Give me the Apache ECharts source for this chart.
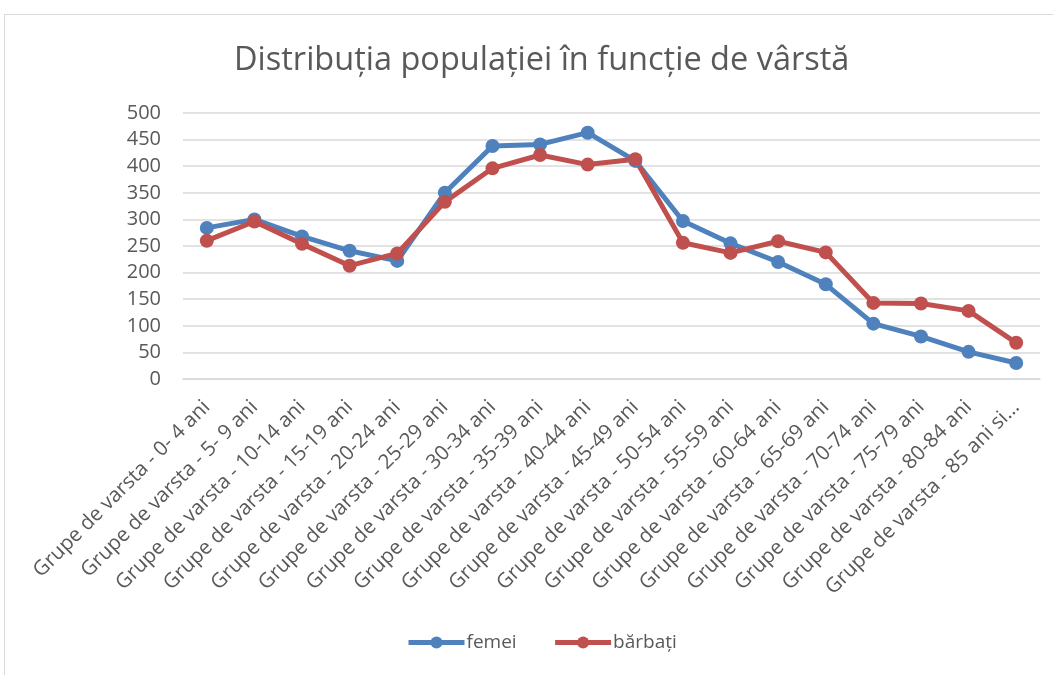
<!DOCTYPE html>
<html><head><meta charset="utf-8">
<script src="https://cdn.jsdelivr.net/npm/echarts@6/dist/echarts.min.js"></script>
<style>
html,body{margin:0;padding:0;background:#fff;}
#frame{position:absolute;left:4px;top:14px;width:1060px;height:680px;border-left:1.5px solid #d9d9d9;border-top:1.5px solid #d9d9d9;}
#c{position:absolute;left:0;top:0;width:1053px;height:675px;}
</style></head><body>
<div id="frame"></div>
<div id="c"></div>
<script>
var categories = ["Grupe de varsta - 0- 4 ani","Grupe de varsta - 5- 9 ani","Grupe de varsta - 10-14 ani","Grupe de varsta - 15-19 ani","Grupe de varsta - 20-24 ani","Grupe de varsta - 25-29 ani","Grupe de varsta - 30-34 ani","Grupe de varsta - 35-39 ani","Grupe de varsta - 40-44 ani","Grupe de varsta - 45-49 ani","Grupe de varsta - 50-54 ani","Grupe de varsta - 55-59 ani","Grupe de varsta - 60-64 ani","Grupe de varsta - 65-69 ani","Grupe de varsta - 70-74 ani","Grupe de varsta - 75-79 ani","Grupe de varsta - 80-84 ani","Grupe de varsta - 85 ani si..."];
var femei = [284, 300, 268, 241, 222, 350, 438, 441, 463, 410, 297, 255, 220, 178, 104, 80, 51, 30];
var barbati = [260, 296, 254, 213, 236, 333, 396, 421, 403, 413, 256, 237, 259, 238, 143, 142, 128, 68];
var chart = echarts.init(document.getElementById('c'));
var font = "'Open Sans', 'Noto Sans', sans-serif";
chart.setOption({
  animation:false,
  title:{text:"Distribuția populației în funcție de vârstă",left:229,top:39,
    textStyle:{fontFamily:font,fontSize:32.5,fontWeight:'normal',color:'#595959'}},
  legend:{bottom:18,left:401,itemWidth:56,itemHeight:15,itemGap:36,
    lineStyle:{width:5},
    textStyle:{fontFamily:font,fontSize:19,color:'#595959',padding:[0,0,0,-3]},
    data:['femei','bărbați']},
  grid:{left:183,right:13,top:113,bottom:296,containLabel:false},
  xAxis:{type:'category',data:categories,boundaryGap:true,
    axisLine:{show:true,lineStyle:{color:'#d9d9d9',width:1.5}},
    axisTick:{show:false},
    axisLabel:{rotate:45,interval:0,margin:25,fontFamily:font,fontSize:20.5,color:'#595959'}},
  yAxis:{type:'value',min:0,max:500,interval:50,
    axisLine:{show:false},axisTick:{show:false},
    splitLine:{lineStyle:{color:'#d9d9d9',width:1.5}},
    axisLabel:{fontFamily:font,fontSize:20,color:'#595959',margin:22}},
  series:[
    {name:'femei',type:'line',data:femei,symbol:'circle',symbolSize:14,
      lineStyle:{width:5,color:'#4f81bd'},itemStyle:{color:'#4f81bd'}},
    {name:'bărbați',type:'line',data:barbati,symbol:'circle',symbolSize:14,
      lineStyle:{width:5,color:'#c0504d'},itemStyle:{color:'#c0504d'}}
  ]
});
</script>
</body></html>
